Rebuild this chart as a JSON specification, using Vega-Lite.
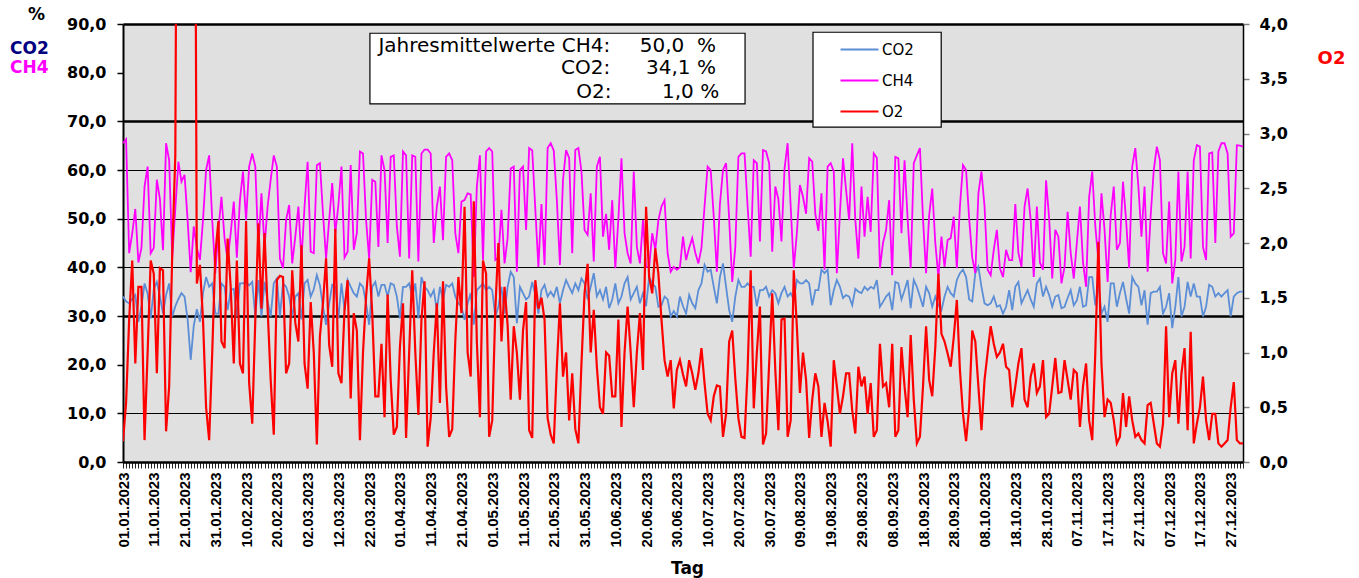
{
"$schema": "https://vega.github.io/schema/vega-lite/v6.json",
"width": 1120,
"height": 438,
"autosize": {"type": "none"},
"padding": {"left": 123, "top": 24, "right": 116, "bottom": 116},
"background": "white",
"config": {
  "view": {"fill": "#E0E0E0", "stroke": null},
  "font": "DejaVu Sans"
},
"title": {
  "text": "CO2", "subtitle": "CH4", "anchor": "start", "frame": "group", "orient": "top",
  "dx": -113, "dy": 72, "offset": 0,
  "font": "DejaVu Sans", "fontSize": 17, "fontWeight": "bold", "color": "#000080",
  "subtitleFont": "DejaVu Sans", "subtitleFontSize": 17, "subtitleFontWeight": "bold", "subtitleColor": "#FF00FF",
  "subtitlePadding": 2
},
"datasets": {
"gas": [
{"d":"2023-01-01","CO2":34,"CH4":65.5,"O2":0.19},
{"d":"2023-01-02","CO2":33,"CH4":66.3,"O2":0.54},
{"d":"2023-01-03","CO2":32.6,"CH4":42.9,"O2":1.3},
{"d":"2023-01-04","CO2":33.5,"CH4":47,"O2":1.84},
{"d":"2023-01-05","CO2":34.3,"CH4":52,"O2":0.9},
{"d":"2023-01-06","CO2":28.8,"CH4":41,"O2":1.6},
{"d":"2023-01-07","CO2":32,"CH4":44,"O2":1.6},
{"d":"2023-01-08","CO2":36.7,"CH4":56.6,"O2":0.2},
{"d":"2023-01-09","CO2":34.6,"CH4":60.7,"O2":1.0},
{"d":"2023-01-10","CO2":29.5,"CH4":42.9,"O2":1.84},
{"d":"2023-01-11","CO2":35.5,"CH4":44,"O2":1.72},
{"d":"2023-01-12","CO2":37,"CH4":58,"O2":0.81},
{"d":"2023-01-13","CO2":34,"CH4":54,"O2":1.77},
{"d":"2023-01-14","CO2":30.5,"CH4":43.5,"O2":1.75},
{"d":"2023-01-15","CO2":34.3,"CH4":65.5,"O2":0.28},
{"d":"2023-01-16","CO2":36.7,"CH4":62,"O2":0.69},
{"d":"2023-01-17","CO2":29.9,"CH4":42,"O2":1.9},
{"d":"2023-01-18","CO2":32,"CH4":52,"O2":2.8},
{"d":"2023-01-19","CO2":33.5,"CH4":61.7,"O2":9},
{"d":"2023-01-20","CO2":34.7,"CH4":57.6,"O2":9},
{"d":"2023-01-21","CO2":34,"CH4":59,"O2":9},
{"d":"2023-01-22","CO2":29.3,"CH4":49.7,"O2":9},
{"d":"2023-01-23","CO2":21,"CH4":39,"O2":9},
{"d":"2023-01-24","CO2":28,"CH4":48.4,"O2":9},
{"d":"2023-01-25","CO2":31.4,"CH4":44,"O2":1.63},
{"d":"2023-01-26","CO2":28.8,"CH4":41.5,"O2":1.8},
{"d":"2023-01-27","CO2":34.7,"CH4":49.7,"O2":1.3},
{"d":"2023-01-28","CO2":38,"CH4":60,"O2":0.5},
{"d":"2023-01-29","CO2":36,"CH4":63,"O2":0.2},
{"d":"2023-01-30","CO2":36.7,"CH4":49.7,"O2":1.0},
{"d":"2023-01-31","CO2":30.5,"CH4":38.8,"O2":1.9},
{"d":"2023-02-01","CO2":30.5,"CH4":47.7,"O2":2.2},
{"d":"2023-02-02","CO2":36.7,"CH4":54.5,"O2":1.1},
{"d":"2023-02-03","CO2":36,"CH4":46,"O2":1.04},
{"d":"2023-02-04","CO2":31.2,"CH4":41.5,"O2":2.04},
{"d":"2023-02-05","CO2":35.3,"CH4":47,"O2":1.6},
{"d":"2023-02-06","CO2":35.6,"CH4":53.5,"O2":0.9},
{"d":"2023-02-07","CO2":29.9,"CH4":42,"O2":1.84},
{"d":"2023-02-08","CO2":36.7,"CH4":53.8,"O2":0.9},
{"d":"2023-02-09","CO2":36.7,"CH4":59.7,"O2":0.81},
{"d":"2023-02-10","CO2":37,"CH4":49.7,"O2":2.2},
{"d":"2023-02-11","CO2":36.3,"CH4":60.7,"O2":0.72},
{"d":"2023-02-12","CO2":37,"CH4":63.4,"O2":0.35},
{"d":"2023-02-13","CO2":29.9,"CH4":60.7,"O2":1.3},
{"d":"2023-02-14","CO2":37.4,"CH4":43.6,"O2":2.18},
{"d":"2023-02-15","CO2":29.9,"CH4":55.2,"O2":1.4},
{"d":"2023-02-16","CO2":37,"CH4":44.2,"O2":2.09},
{"d":"2023-02-17","CO2":33,"CH4":52.5,"O2":1.4},
{"d":"2023-02-18","CO2":29.9,"CH4":58,"O2":0.75},
{"d":"2023-02-19","CO2":36.7,"CH4":63,"O2":0.25},
{"d":"2023-02-20","CO2":37.7,"CH4":60.7,"O2":1.66},
{"d":"2023-02-21","CO2":29.9,"CH4":41.8,"O2":1.7},
{"d":"2023-02-22","CO2":36.7,"CH4":39.8,"O2":1.69},
{"d":"2023-02-23","CO2":36,"CH4":49.7,"O2":0.81},
{"d":"2023-02-24","CO2":34,"CH4":52.8,"O2":0.9},
{"d":"2023-02-25","CO2":29.9,"CH4":40.8,"O2":1.75},
{"d":"2023-02-26","CO2":34,"CH4":46.3,"O2":1.27},
{"d":"2023-02-27","CO2":34.7,"CH4":52.5,"O2":1.1},
{"d":"2023-02-28","CO2":29.3,"CH4":41.5,"O2":1.98},
{"d":"2023-03-01","CO2":36.7,"CH4":52.5,"O2":0.9},
{"d":"2023-03-02","CO2":37.4,"CH4":61.7,"O2":0.67},
{"d":"2023-03-03","CO2":34,"CH4":43.2,"O2":1.46},
{"d":"2023-03-04","CO2":35.5,"CH4":42.9,"O2":1.0},
{"d":"2023-03-05","CO2":38.4,"CH4":61,"O2":0.16},
{"d":"2023-03-06","CO2":36.3,"CH4":61.4,"O2":1.15},
{"d":"2023-03-07","CO2":31.9,"CH4":51,"O2":1.45},
{"d":"2023-03-08","CO2":28.2,"CH4":41.8,"O2":1.86},
{"d":"2023-03-09","CO2":32.5,"CH4":49.7,"O2":1.07},
{"d":"2023-03-10","CO2":36.4,"CH4":57.3,"O2":0.87},
{"d":"2023-03-11","CO2":36,"CH4":47,"O2":2.13},
{"d":"2023-03-12","CO2":29.5,"CH4":52.8,"O2":0.81},
{"d":"2023-03-13","CO2":36.7,"CH4":60.7,"O2":0.72},
{"d":"2023-03-14","CO2":31.2,"CH4":42,"O2":1.39},
{"d":"2023-03-15","CO2":37.4,"CH4":43.2,"O2":1.66},
{"d":"2023-03-16","CO2":36,"CH4":61,"O2":0.58},
{"d":"2023-03-17","CO2":34.7,"CH4":43.6,"O2":1.36},
{"d":"2023-03-18","CO2":34,"CH4":47,"O2":1.2},
{"d":"2023-03-19","CO2":36.7,"CH4":63.8,"O2":0.2},
{"d":"2023-03-20","CO2":36,"CH4":63.4,"O2":1.0},
{"d":"2023-03-21","CO2":32.6,"CH4":49.7,"O2":1.51},
{"d":"2023-03-22","CO2":28.2,"CH4":41.8,"O2":1.86},
{"d":"2023-03-23","CO2":36,"CH4":58,"O2":1.36},
{"d":"2023-03-24","CO2":37,"CH4":57.6,"O2":0.6},
{"d":"2023-03-25","CO2":34,"CH4":44.2,"O2":0.6},
{"d":"2023-03-26","CO2":36.4,"CH4":63,"O2":1.08},
{"d":"2023-03-27","CO2":36.4,"CH4":60,"O2":0.41},
{"d":"2023-03-28","CO2":34,"CH4":45,"O2":1.53},
{"d":"2023-03-29","CO2":36.7,"CH4":62.7,"O2":0.75},
{"d":"2023-03-30","CO2":36.4,"CH4":63,"O2":0.25},
{"d":"2023-03-31","CO2":34,"CH4":48.4,"O2":0.32},
{"d":"2023-04-01","CO2":29.5,"CH4":42.2,"O2":1.05},
{"d":"2023-04-02","CO2":36,"CH4":63.8,"O2":1.45},
{"d":"2023-04-03","CO2":36,"CH4":63,"O2":0.22},
{"d":"2023-04-04","CO2":36.7,"CH4":41.8,"O2":1.0},
{"d":"2023-04-05","CO2":34,"CH4":63,"O2":1.75},
{"d":"2023-04-06","CO2":36.7,"CH4":62.7,"O2":1.0},
{"d":"2023-04-07","CO2":29.5,"CH4":41.2,"O2":0.43},
{"d":"2023-04-08","CO2":38,"CH4":63.4,"O2":1.3},
{"d":"2023-04-09","CO2":36,"CH4":64.2,"O2":1.65},
{"d":"2023-04-10","CO2":35.3,"CH4":64.2,"O2":0.14},
{"d":"2023-04-11","CO2":34,"CH4":63.4,"O2":0.4},
{"d":"2023-04-12","CO2":35.3,"CH4":45,"O2":1.0},
{"d":"2023-04-13","CO2":31.2,"CH4":52.5,"O2":1.45},
{"d":"2023-04-14","CO2":36,"CH4":56.6,"O2":0.54},
{"d":"2023-04-15","CO2":33.3,"CH4":45.6,"O2":1.65},
{"d":"2023-04-16","CO2":36.4,"CH4":62.7,"O2":0.69},
{"d":"2023-04-17","CO2":36,"CH4":63.4,"O2":0.23},
{"d":"2023-04-18","CO2":36.7,"CH4":62,"O2":0.3},
{"d":"2023-04-19","CO2":34,"CH4":47,"O2":1.11},
{"d":"2023-04-20","CO2":32.6,"CH4":42.9,"O2":1.69},
{"d":"2023-04-21","CO2":31.9,"CH4":53.5,"O2":1.36},
{"d":"2023-04-22","CO2":29.2,"CH4":53.8,"O2":2.33},
{"d":"2023-04-23","CO2":32.6,"CH4":55.2,"O2":1.0},
{"d":"2023-04-24","CO2":34.7,"CH4":55,"O2":0.78},
{"d":"2023-04-25","CO2":28.2,"CH4":38,"O2":2.38},
{"d":"2023-04-26","CO2":35.3,"CH4":56.6,"O2":1.1},
{"d":"2023-04-27","CO2":36,"CH4":63,"O2":0.41},
{"d":"2023-04-28","CO2":36.7,"CH4":41.5,"O2":1.84},
{"d":"2023-04-29","CO2":35.3,"CH4":63.8,"O2":1.72},
{"d":"2023-04-30","CO2":36,"CH4":64.5,"O2":0.23},
{"d":"2023-05-01","CO2":35.3,"CH4":63.8,"O2":0.38},
{"d":"2023-05-02","CO2":29.9,"CH4":41.5,"O2":1.39},
{"d":"2023-05-03","CO2":31.9,"CH4":42,"O2":2.0},
{"d":"2023-05-04","CO2":36,"CH4":51.8,"O2":1.1},
{"d":"2023-05-05","CO2":30.5,"CH4":40.8,"O2":1.6},
{"d":"2023-05-06","CO2":36,"CH4":46,"O2":1.25},
{"d":"2023-05-07","CO2":39.1,"CH4":60.3,"O2":0.57},
{"d":"2023-05-08","CO2":38,"CH4":60.7,"O2":1.24},
{"d":"2023-05-09","CO2":28.5,"CH4":39.1,"O2":1.0},
{"d":"2023-05-10","CO2":36,"CH4":60,"O2":0.57},
{"d":"2023-05-11","CO2":34.7,"CH4":60.7,"O2":1.2},
{"d":"2023-05-12","CO2":33.4,"CH4":47.7,"O2":1.46},
{"d":"2023-05-13","CO2":34,"CH4":64.5,"O2":0.29},
{"d":"2023-05-14","CO2":37,"CH4":64,"O2":0.22},
{"d":"2023-05-15","CO2":34.3,"CH4":52,"O2":1.66},
{"d":"2023-05-16","CO2":30.5,"CH4":40.1,"O2":1.4},
{"d":"2023-05-17","CO2":35.3,"CH4":53,"O2":1.5},
{"d":"2023-05-18","CO2":36.4,"CH4":40.5,"O2":1.3},
{"d":"2023-05-19","CO2":34,"CH4":64.5,"O2":0.4},
{"d":"2023-05-20","CO2":35,"CH4":65.5,"O2":0.25},
{"d":"2023-05-21","CO2":34,"CH4":64,"O2":0.17},
{"d":"2023-05-22","CO2":36,"CH4":53.8,"O2":0.87},
{"d":"2023-05-23","CO2":32.6,"CH4":40.5,"O2":1.45},
{"d":"2023-05-24","CO2":35.3,"CH4":58,"O2":0.78},
{"d":"2023-05-25","CO2":37.4,"CH4":64.1,"O2":1.0},
{"d":"2023-05-26","CO2":36,"CH4":62.5,"O2":0.38},
{"d":"2023-05-27","CO2":34.7,"CH4":42.9,"O2":0.81},
{"d":"2023-05-28","CO2":36.7,"CH4":64.1,"O2":0.3},
{"d":"2023-05-29","CO2":35.3,"CH4":64.5,"O2":0.17},
{"d":"2023-05-30","CO2":37.7,"CH4":59.7,"O2":0.9},
{"d":"2023-05-31","CO2":36.7,"CH4":47.7,"O2":1.54},
{"d":"2023-06-01","CO2":33.4,"CH4":46.7,"O2":1.81},
{"d":"2023-06-02","CO2":36,"CH4":55.2,"O2":1.0},
{"d":"2023-06-03","CO2":38.8,"CH4":41.2,"O2":1.39},
{"d":"2023-06-04","CO2":34,"CH4":60.7,"O2":0.87},
{"d":"2023-06-05","CO2":35.3,"CH4":62.7,"O2":0.5},
{"d":"2023-06-06","CO2":33.4,"CH4":46.3,"O2":0.44},
{"d":"2023-06-07","CO2":36,"CH4":51,"O2":1.0},
{"d":"2023-06-08","CO2":31.6,"CH4":43.6,"O2":0.97},
{"d":"2023-06-09","CO2":33.4,"CH4":53.8,"O2":0.6},
{"d":"2023-06-10","CO2":36.7,"CH4":39.8,"O2":0.6},
{"d":"2023-06-11","CO2":32.6,"CH4":50,"O2":1.3},
{"d":"2023-06-12","CO2":34,"CH4":62.4,"O2":0.32},
{"d":"2023-06-13","CO2":36.7,"CH4":47,"O2":1.0},
{"d":"2023-06-14","CO2":38,"CH4":42.9,"O2":1.42},
{"d":"2023-06-15","CO2":33.4,"CH4":40.8,"O2":1.0},
{"d":"2023-06-16","CO2":34.7,"CH4":59.7,"O2":0.5},
{"d":"2023-06-17","CO2":36,"CH4":44.2,"O2":1.0},
{"d":"2023-06-18","CO2":32.6,"CH4":40.8,"O2":1.36},
{"d":"2023-06-19","CO2":34.7,"CH4":49.7,"O2":0.84},
{"d":"2023-06-20","CO2":32,"CH4":40.1,"O2":2.33},
{"d":"2023-06-21","CO2":38,"CH4":40.1,"O2":1.69},
{"d":"2023-06-22","CO2":36.7,"CH4":47,"O2":1.54},
{"d":"2023-06-23","CO2":36,"CH4":43.6,"O2":1.95},
{"d":"2023-06-24","CO2":31.9,"CH4":49.7,"O2":1.72},
{"d":"2023-06-25","CO2":32.2,"CH4":52.5,"O2":1.3},
{"d":"2023-06-26","CO2":34,"CH4":53.8,"O2":0.93},
{"d":"2023-06-27","CO2":33.4,"CH4":42.9,"O2":0.78},
{"d":"2023-06-28","CO2":29.9,"CH4":39.1,"O2":0.93},
{"d":"2023-06-29","CO2":31,"CH4":40.1,"O2":0.49},
{"d":"2023-06-30","CO2":29.9,"CH4":39.5,"O2":0.84},
{"d":"2023-07-01","CO2":34,"CH4":40,"O2":0.93},
{"d":"2023-07-02","CO2":32,"CH4":46.3,"O2":0.8},
{"d":"2023-07-03","CO2":30.5,"CH4":41.5,"O2":0.69},
{"d":"2023-07-04","CO2":34.3,"CH4":44,"O2":0.93},
{"d":"2023-07-05","CO2":32.6,"CH4":46,"O2":0.81},
{"d":"2023-07-06","CO2":31.6,"CH4":43,"O2":0.66},
{"d":"2023-07-07","CO2":35.3,"CH4":40.8,"O2":0.81},
{"d":"2023-07-08","CO2":36.7,"CH4":44,"O2":1.04},
{"d":"2023-07-09","CO2":40.5,"CH4":52.5,"O2":0.72},
{"d":"2023-07-10","CO2":39.1,"CH4":60.7,"O2":0.44},
{"d":"2023-07-11","CO2":39.5,"CH4":60,"O2":0.38},
{"d":"2023-07-12","CO2":36,"CH4":50.4,"O2":0.6},
{"d":"2023-07-13","CO2":32.6,"CH4":39.1,"O2":0.7},
{"d":"2023-07-14","CO2":38,"CH4":53,"O2":0.69},
{"d":"2023-07-15","CO2":40.8,"CH4":60,"O2":0.23},
{"d":"2023-07-16","CO2":36,"CH4":61.4,"O2":0.44},
{"d":"2023-07-17","CO2":31.2,"CH4":50,"O2":1.1},
{"d":"2023-07-18","CO2":28.8,"CH4":37,"O2":1.2},
{"d":"2023-07-19","CO2":34,"CH4":44.2,"O2":0.76},
{"d":"2023-07-20","CO2":37.4,"CH4":62.7,"O2":0.4},
{"d":"2023-07-21","CO2":36,"CH4":63.4,"O2":0.23},
{"d":"2023-07-22","CO2":36,"CH4":63.4,"O2":0.22},
{"d":"2023-07-23","CO2":36.7,"CH4":52.5,"O2":0.84},
{"d":"2023-07-24","CO2":36,"CH4":42.2,"O2":1.75},
{"d":"2023-07-25","CO2":36,"CH4":62,"O2":0.49},
{"d":"2023-07-26","CO2":32,"CH4":61.4,"O2":1.0},
{"d":"2023-07-27","CO2":35.3,"CH4":45.3,"O2":1.42},
{"d":"2023-07-28","CO2":35.3,"CH4":64.1,"O2":0.16},
{"d":"2023-07-29","CO2":36,"CH4":63.8,"O2":0.26},
{"d":"2023-07-30","CO2":34,"CH4":61.4,"O2":0.9},
{"d":"2023-07-31","CO2":35.3,"CH4":43.2,"O2":1.54},
{"d":"2023-08-01","CO2":34.7,"CH4":56.6,"O2":0.84},
{"d":"2023-08-02","CO2":32.6,"CH4":54,"O2":0.29},
{"d":"2023-08-03","CO2":34.7,"CH4":45.3,"O2":1.3},
{"d":"2023-08-04","CO2":36,"CH4":60.3,"O2":1.31},
{"d":"2023-08-05","CO2":34,"CH4":65.5,"O2":0.23},
{"d":"2023-08-06","CO2":34.7,"CH4":52.5,"O2":0.38},
{"d":"2023-08-07","CO2":33.4,"CH4":39.8,"O2":1.75},
{"d":"2023-08-08","CO2":37.4,"CH4":47,"O2":1.24},
{"d":"2023-08-09","CO2":36.7,"CH4":56.9,"O2":0.63},
{"d":"2023-08-10","CO2":36.7,"CH4":54.5,"O2":1.0},
{"d":"2023-08-11","CO2":37.4,"CH4":51,"O2":0.75},
{"d":"2023-08-12","CO2":36.7,"CH4":62.4,"O2":0.22},
{"d":"2023-08-13","CO2":32.2,"CH4":61.7,"O2":0.57},
{"d":"2023-08-14","CO2":35.3,"CH4":51,"O2":0.81},
{"d":"2023-08-15","CO2":35.3,"CH4":47.5,"O2":0.69},
{"d":"2023-08-16","CO2":39.5,"CH4":55.2,"O2":0.23},
{"d":"2023-08-17","CO2":38.8,"CH4":39.5,"O2":0.54},
{"d":"2023-08-18","CO2":39.5,"CH4":60.7,"O2":0.37},
{"d":"2023-08-19","CO2":32.2,"CH4":61.4,"O2":0.14},
{"d":"2023-08-20","CO2":35.3,"CH4":59.7,"O2":0.93},
{"d":"2023-08-21","CO2":37.4,"CH4":38.8,"O2":0.69},
{"d":"2023-08-22","CO2":36,"CH4":51,"O2":0.44},
{"d":"2023-08-23","CO2":33.7,"CH4":62.4,"O2":0.6},
{"d":"2023-08-24","CO2":34.3,"CH4":55.9,"O2":0.81},
{"d":"2023-08-25","CO2":34,"CH4":49.7,"O2":0.81},
{"d":"2023-08-26","CO2":32.2,"CH4":65.5,"O2":0.47},
{"d":"2023-08-27","CO2":35.6,"CH4":49.7,"O2":0.26},
{"d":"2023-08-28","CO2":35,"CH4":41.8,"O2":0.87},
{"d":"2023-08-29","CO2":34.7,"CH4":56.6,"O2":0.69},
{"d":"2023-08-30","CO2":36,"CH4":46.3,"O2":0.78},
{"d":"2023-08-31","CO2":35.3,"CH4":54.5,"O2":0.44},
{"d":"2023-09-01","CO2":36,"CH4":47.3,"O2":0.72},
{"d":"2023-09-02","CO2":35.6,"CH4":63.4,"O2":0.23},
{"d":"2023-09-03","CO2":37.4,"CH4":62.5,"O2":0.29},
{"d":"2023-09-04","CO2":31.9,"CH4":39.8,"O2":1.08},
{"d":"2023-09-05","CO2":32.9,"CH4":45,"O2":0.69},
{"d":"2023-09-06","CO2":34,"CH4":47.7,"O2":0.72},
{"d":"2023-09-07","CO2":34.7,"CH4":53.8,"O2":0.5},
{"d":"2023-09-08","CO2":31.2,"CH4":38.4,"O2":1.08},
{"d":"2023-09-09","CO2":37,"CH4":62.7,"O2":0.23},
{"d":"2023-09-10","CO2":36.7,"CH4":62.4,"O2":0.29},
{"d":"2023-09-11","CO2":33.4,"CH4":47,"O2":1.05},
{"d":"2023-09-12","CO2":35.3,"CH4":62,"O2":0.69},
{"d":"2023-09-13","CO2":37.4,"CH4":50,"O2":0.41},
{"d":"2023-09-14","CO2":31.6,"CH4":39.8,"O2":1.16},
{"d":"2023-09-15","CO2":37.4,"CH4":61.4,"O2":0.57},
{"d":"2023-09-16","CO2":36,"CH4":63,"O2":0.17},
{"d":"2023-09-17","CO2":34,"CH4":64.5,"O2":0.23},
{"d":"2023-09-18","CO2":31.9,"CH4":50,"O2":0.69},
{"d":"2023-09-19","CO2":36,"CH4":38.8,"O2":1.24},
{"d":"2023-09-20","CO2":34.7,"CH4":50.7,"O2":0.75},
{"d":"2023-09-21","CO2":31.9,"CH4":56.2,"O2":0.6},
{"d":"2023-09-22","CO2":34,"CH4":45,"O2":1.05},
{"d":"2023-09-23","CO2":32.2,"CH4":38,"O2":1.72},
{"d":"2023-09-24","CO2":31.2,"CH4":46.3,"O2":1.17},
{"d":"2023-09-25","CO2":34,"CH4":40.1,"O2":1.1},
{"d":"2023-09-26","CO2":36,"CH4":45.6,"O2":0.99},
{"d":"2023-09-27","CO2":34.7,"CH4":46,"O2":0.87},
{"d":"2023-09-28","CO2":34,"CH4":50.4,"O2":1.14},
{"d":"2023-09-29","CO2":37.4,"CH4":39.8,"O2":1.48},
{"d":"2023-09-30","CO2":38.8,"CH4":52.5,"O2":0.84},
{"d":"2023-10-01","CO2":39.5,"CH4":61,"O2":0.44},
{"d":"2023-10-02","CO2":38,"CH4":60,"O2":0.19},
{"d":"2023-10-03","CO2":33.4,"CH4":50,"O2":0.5},
{"d":"2023-10-04","CO2":33,"CH4":42,"O2":1.2},
{"d":"2023-10-05","CO2":38.8,"CH4":38.8,"O2":1.1},
{"d":"2023-10-06","CO2":40.1,"CH4":55.2,"O2":0.69},
{"d":"2023-10-07","CO2":36,"CH4":59.7,"O2":0.29},
{"d":"2023-10-08","CO2":32.6,"CH4":52.5,"O2":0.75},
{"d":"2023-10-09","CO2":32.2,"CH4":39.5,"O2":1.0},
{"d":"2023-10-10","CO2":32.6,"CH4":38.4,"O2":1.24},
{"d":"2023-10-11","CO2":34,"CH4":43.6,"O2":1.08},
{"d":"2023-10-12","CO2":31.9,"CH4":47.7,"O2":0.96},
{"d":"2023-10-13","CO2":32.2,"CH4":39.8,"O2":1.0},
{"d":"2023-10-14","CO2":30.5,"CH4":38,"O2":1.08},
{"d":"2023-10-15","CO2":31.9,"CH4":43.6,"O2":0.87},
{"d":"2023-10-16","CO2":35.3,"CH4":41.5,"O2":0.84},
{"d":"2023-10-17","CO2":31.2,"CH4":41.5,"O2":0.5},
{"d":"2023-10-18","CO2":36,"CH4":53,"O2":0.69},
{"d":"2023-10-19","CO2":37,"CH4":43,"O2":0.9},
{"d":"2023-10-20","CO2":32.6,"CH4":40.1,"O2":1.04},
{"d":"2023-10-21","CO2":34,"CH4":52.5,"O2":0.57},
{"d":"2023-10-22","CO2":35.3,"CH4":56.2,"O2":0.5},
{"d":"2023-10-23","CO2":33.4,"CH4":49.7,"O2":0.78},
{"d":"2023-10-24","CO2":31.9,"CH4":38,"O2":0.9},
{"d":"2023-10-25","CO2":36.7,"CH4":52.5,"O2":0.63},
{"d":"2023-10-26","CO2":37.7,"CH4":41,"O2":0.69},
{"d":"2023-10-27","CO2":34,"CH4":39.5,"O2":0.93},
{"d":"2023-10-28","CO2":36,"CH4":57.9,"O2":0.41},
{"d":"2023-10-29","CO2":34.3,"CH4":50,"O2":0.44},
{"d":"2023-10-30","CO2":31.9,"CH4":37.7,"O2":0.69},
{"d":"2023-10-31","CO2":34,"CH4":47.7,"O2":0.95},
{"d":"2023-11-01","CO2":34.3,"CH4":46.3,"O2":0.63},
{"d":"2023-11-02","CO2":31.6,"CH4":36.7,"O2":0.64},
{"d":"2023-11-03","CO2":31.9,"CH4":40.1,"O2":0.93},
{"d":"2023-11-04","CO2":33.7,"CH4":51.4,"O2":0.75},
{"d":"2023-11-05","CO2":35.3,"CH4":43,"O2":0.57},
{"d":"2023-11-06","CO2":32.2,"CH4":37.7,"O2":0.84},
{"d":"2023-11-07","CO2":33.2,"CH4":45,"O2":0.81},
{"d":"2023-11-08","CO2":36,"CH4":52.5,"O2":0.32},
{"d":"2023-11-09","CO2":31.9,"CH4":41,"O2":0.69},
{"d":"2023-11-10","CO2":32.2,"CH4":36,"O2":0.9},
{"d":"2023-11-11","CO2":38,"CH4":54.5,"O2":0.38},
{"d":"2023-11-12","CO2":38,"CH4":59.7,"O2":0.2},
{"d":"2023-11-13","CO2":32.2,"CH4":48.4,"O2":1.0},
{"d":"2023-11-14","CO2":36.7,"CH4":41.5,"O2":2.01},
{"d":"2023-11-15","CO2":30.5,"CH4":55.2,"O2":0.9},
{"d":"2023-11-16","CO2":31.9,"CH4":47.7,"O2":0.41},
{"d":"2023-11-17","CO2":28.8,"CH4":37,"O2":0.57},
{"d":"2023-11-18","CO2":36.7,"CH4":50.7,"O2":0.54},
{"d":"2023-11-19","CO2":36.7,"CH4":56.6,"O2":0.38},
{"d":"2023-11-20","CO2":31.9,"CH4":43.6,"O2":0.17},
{"d":"2023-11-21","CO2":34.7,"CH4":45,"O2":0.23},
{"d":"2023-11-22","CO2":37,"CH4":57.6,"O2":0.63},
{"d":"2023-11-23","CO2":33.6,"CH4":49.7,"O2":0.32},
{"d":"2023-11-24","CO2":30.5,"CH4":39.8,"O2":0.6},
{"d":"2023-11-25","CO2":38,"CH4":60.7,"O2":0.38},
{"d":"2023-11-26","CO2":36.7,"CH4":64.5,"O2":0.23},
{"d":"2023-11-27","CO2":36,"CH4":56.6,"O2":0.26},
{"d":"2023-11-28","CO2":32.2,"CH4":46.3,"O2":0.2},
{"d":"2023-11-29","CO2":35.3,"CH4":56.6,"O2":0.17},
{"d":"2023-11-30","CO2":28.2,"CH4":39.1,"O2":0.52},
{"d":"2023-12-01","CO2":34.7,"CH4":50.7,"O2":0.54},
{"d":"2023-12-02","CO2":35,"CH4":60,"O2":0.35},
{"d":"2023-12-03","CO2":35,"CH4":64.8,"O2":0.17},
{"d":"2023-12-04","CO2":36,"CH4":62,"O2":0.14},
{"d":"2023-12-05","CO2":30.5,"CH4":42.9,"O2":0.35},
{"d":"2023-12-06","CO2":31.9,"CH4":40.8,"O2":1.24},
{"d":"2023-12-07","CO2":34.7,"CH4":53.5,"O2":0.41},
{"d":"2023-12-08","CO2":27.5,"CH4":36.7,"O2":0.81},
{"d":"2023-12-09","CO2":31.9,"CH4":41.5,"O2":0.93},
{"d":"2023-12-10","CO2":38,"CH4":59.7,"O2":0.35},
{"d":"2023-12-11","CO2":29.9,"CH4":41.2,"O2":0.81},
{"d":"2023-12-12","CO2":31.9,"CH4":44.2,"O2":1.04},
{"d":"2023-12-13","CO2":37,"CH4":59.7,"O2":0.29},
{"d":"2023-12-14","CO2":34,"CH4":41.8,"O2":1.19},
{"d":"2023-12-15","CO2":36.7,"CH4":62,"O2":0.17},
{"d":"2023-12-16","CO2":34,"CH4":65.1,"O2":0.35},
{"d":"2023-12-17","CO2":34,"CH4":64.8,"O2":0.5},
{"d":"2023-12-18","CO2":29.9,"CH4":44.2,"O2":0.78},
{"d":"2023-12-19","CO2":31.9,"CH4":41.5,"O2":0.38},
{"d":"2023-12-20","CO2":36.4,"CH4":63.4,"O2":0.2},
{"d":"2023-12-21","CO2":36,"CH4":63.6,"O2":0.44},
{"d":"2023-12-22","CO2":34,"CH4":45,"O2":0.44},
{"d":"2023-12-23","CO2":34.7,"CH4":63.8,"O2":0.17},
{"d":"2023-12-24","CO2":34,"CH4":65.5,"O2":0.14},
{"d":"2023-12-25","CO2":34.7,"CH4":65.5,"O2":0.17},
{"d":"2023-12-26","CO2":35.3,"CH4":63.4,"O2":0.2},
{"d":"2023-12-27","CO2":29.9,"CH4":46.3,"O2":0.5},
{"d":"2023-12-28","CO2":34,"CH4":47,"O2":0.73},
{"d":"2023-12-29","CO2":34.7,"CH4":65.1,"O2":0.2},
{"d":"2023-12-30","CO2":35,"CH4":65,"O2":0.17},
{"d":"2023-12-31","CO2":35,"CH4":64.8,"O2":0.17}
]
},
"layer": [
  {
    "layer": [
      {
        "data": {"name": "gas"},
        "transform": [{"fold": ["CO2", "CH4"], "as": ["Gas", "Wert"]}],
        "mark": {"type": "line", "strokeWidth": 1.8},
        "encoding": {
          "x": {
            "field": "d", "type": "temporal",
            "scale": {"type": "utc", "domain": [{"year": 2023, "month": 1, "date": 1, "utc": true}, {"year": 2023, "month": 12, "date": 31, "utc": true}]},
            "axis": {
              "title": "Tag", "titleFont": "DejaVu Sans", "titleFontSize": 17, "titleFontWeight": "bold", "titleColor": "black",
              "titleX": 564, "titleY": 106, "titleAlign": "center", "titleBaseline": "middle",
              "tickCount": {"interval": "day", "step": 1},
              "labelExpr": "(round((datum.value - utc(2023,0,1))/86400000) % 10 == 0) ? utcFormat(datum.value, '%d.%m.%Y') : ''",
              "labelAngle": -90, "labelFont": "Liberation Sans", "labelFontSize": 15, "labelFontWeight": "bold", "labelColor": "black",
              "labelOverlap": false, "labelFlush": false, "labelBound": false, "labelPadding": 4,
              "tickSize": 6, "tickColor": "#222222", "tickWidth": 1,
              "domainColor": "black", "domainWidth": 2.5, "grid": false
            }
          },
          "y": {
            "field": "Wert", "type": "quantitative",
            "scale": {"domain": [0, 90], "nice": false},
            "axis": {
              "orient": "left", "values": [0, 10, 20, 30, 40, 50, 60, 70, 80, 90],
              "title": "%", "titleAngle": 0, "titleX": -87, "titleY": -10, "titleAlign": "center", "titleBaseline": "middle",
              "titleFont": "DejaVu Sans", "titleFontSize": 17, "titleFontWeight": "bold", "titleColor": "black",
              "labelExpr": "replace(format(datum.value, '.1f'), '.', ',')",
              "labelFont": "DejaVu Sans", "labelFontSize": 16, "labelFontWeight": "bold", "labelColor": "black", "labelPadding": 11,
              "tickSize": 6, "tickColor": "black", "tickWidth": 1.5,
              "domainColor": "black", "domainWidth": 2,
              "grid": true, "gridColor": "black",
              "gridWidth": {"condition": {"test": "datum.value == 30 || datum.value == 70 || datum.value == 90", "value": 2.5}, "value": 1},
              "gridOpacity": {"condition": {"test": "datum.value == 0 || datum.value == 20 || datum.value == 80", "value": 0}, "value": 1}
            }
          },
          "color": {
            "field": "Gas", "type": "nominal",
            "scale": {"domain": ["CO2", "CH4", "O2"], "range": ["#5B8ED6", "#FF00FF", "#FF0000"]},
            "legend": {
              "orient": "none", "legendX": 716, "legendY": 5, "title": null, "direction": "vertical",
              "padding": 0,
              "symbolType": "stroke", "symbolSize": 1444, "symbolStrokeWidth": 2.2,
              "labelOffset": 2, "labelFont": "DejaVu Sans", "labelFontSize": 15, "labelColor": "black",
              "rowPadding": 2
            }
          }
        }
      },
      {
        "data": {"values": [{}]},
        "mark": {"type": "rect", "fill": "white", "stroke": "black", "strokeWidth": 1.2},
        "encoding": {
          "x": {"datum": {"year": 2023, "month": 3, "date": 22, "hours": 6, "utc": true}, "type": "temporal"},
          "x2": {"datum": {"year": 2023, "month": 7, "date": 22, "hours": 4, "utc": true}},
          "y": {"datum": 88.1, "type": "quantitative"},
          "y2": {"datum": 73.6}
        }
      },
      {
        "data": {"values": [{}]},
        "mark": {"type": "rect", "fill": "white", "stroke": "black", "strokeWidth": 1.2},
        "encoding": {
          "x": {"datum": {"year": 2023, "month": 8, "date": 13, "hours": 6, "utc": true}, "type": "temporal"},
          "x2": {"datum": {"year": 2023, "month": 9, "date": 23, "hours": 22, "utc": true}},
          "y": {"datum": 88.3, "type": "quantitative"},
          "y2": {"datum": 68.8}
        }
      },
      {
        "data": {"values": [{}]},
        "mark": {"type": "text", "align": "right", "baseline": "middle", "font": "DejaVu Sans", "fontSize": 20, "color": "black"},
        "encoding": {
          "x": {"datum": {"year": 2023, "month": 6, "date": 8, "hours": 8, "utc": true}, "type": "temporal"},
          "y": {"datum": 85.5, "type": "quantitative"},
          "text": {"value": "Jahresmittelwerte CH4:"}
        }
      },
      {
        "data": {"values": [{}]},
        "mark": {"type": "text", "align": "right", "baseline": "middle", "font": "DejaVu Sans", "fontSize": 20, "color": "black"},
        "encoding": {
          "x": {"datum": {"year": 2023, "month": 6, "date": 8, "hours": 8, "utc": true}, "type": "temporal"},
          "y": {"datum": 80.9, "type": "quantitative"},
          "text": {"value": "CO2:"}
        }
      },
      {
        "data": {"values": [{}]},
        "mark": {"type": "text", "align": "right", "baseline": "middle", "font": "DejaVu Sans", "fontSize": 20, "color": "black"},
        "encoding": {
          "x": {"datum": {"year": 2023, "month": 6, "date": 8, "hours": 18, "utc": true}, "type": "temporal"},
          "y": {"datum": 76.0, "type": "quantitative"},
          "text": {"value": "O2:"}
        }
      },
      {
        "data": {"values": [{}]},
        "mark": {"type": "text", "align": "right", "baseline": "middle", "font": "DejaVu Sans", "fontSize": 20, "color": "black"},
        "encoding": {
          "x": {"datum": {"year": 2023, "month": 7, "date": 12, "hours": 17, "utc": true}, "type": "temporal"},
          "y": {"datum": 85.5, "type": "quantitative"},
          "text": {"value": "50,0\u00a0 %"}
        }
      },
      {
        "data": {"values": [{}]},
        "mark": {"type": "text", "align": "right", "baseline": "middle", "font": "DejaVu Sans", "fontSize": 20, "color": "black"},
        "encoding": {
          "x": {"datum": {"year": 2023, "month": 7, "date": 12, "hours": 17, "utc": true}, "type": "temporal"},
          "y": {"datum": 80.9, "type": "quantitative"},
          "text": {"value": "34,1 %"}
        }
      },
      {
        "data": {"values": [{}]},
        "mark": {"type": "text", "align": "right", "baseline": "middle", "font": "DejaVu Sans", "fontSize": 20, "color": "black"},
        "encoding": {
          "x": {"datum": {"year": 2023, "month": 7, "date": 13, "hours": 18, "utc": true}, "type": "temporal"},
          "y": {"datum": 76.0, "type": "quantitative"},
          "text": {"value": "1,0 %"}
        }
      }
    ]
  },
  {
    "data": {"name": "gas"},
    "mark": {"type": "line", "strokeWidth": 2.2, "clip": true},
    "encoding": {
      "x": {
        "field": "d", "type": "temporal",
        "scale": {"type": "utc", "domain": [{"year": 2023, "month": 1, "date": 1, "utc": true}, {"year": 2023, "month": 12, "date": 31, "utc": true}]},
        "axis": {
          "title": "Tag", "titleFont": "DejaVu Sans", "titleFontSize": 17, "titleFontWeight": "bold", "titleColor": "black",
          "titleX": 564, "titleY": 106, "titleAlign": "center", "titleBaseline": "middle",
          "tickCount": {"interval": "day", "step": 1},
          "labelExpr": "(round((datum.value - utc(2023,0,1))/86400000) % 10 == 0) ? utcFormat(datum.value, '%d.%m.%Y') : ''",
          "labelAngle": -90, "labelFont": "Liberation Sans", "labelFontSize": 15, "labelFontWeight": "bold", "labelColor": "black",
          "labelOverlap": false, "labelFlush": false, "labelBound": false, "labelPadding": 4,
          "tickSize": 6, "tickColor": "#222222", "tickWidth": 1,
          "domainColor": "black", "domainWidth": 2.5, "grid": false
        }
      },
      "y": {
        "field": "O2", "type": "quantitative",
        "scale": {"domain": [0, 4], "nice": false},
        "axis": {
          "orient": "right", "values": [0, 0.5, 1, 1.5, 2, 2.5, 3, 3.5, 4],
          "title": "O2", "titleAngle": 0, "titleX": 88, "titleY": 34, "titleAlign": "center", "titleBaseline": "middle",
          "titleFont": "DejaVu Sans", "titleFontSize": 18, "titleFontWeight": "bold", "titleColor": "#FF0000",
          "labelExpr": "replace(format(datum.value, '.1f'), '.', ',')",
          "labelFont": "DejaVu Sans", "labelFontSize": 16, "labelFontWeight": "bold", "labelColor": "black", "labelPadding": 10,
          "tickSize": 6, "tickColor": "#808080", "tickWidth": 1.5,
          "domainColor": "black", "domainWidth": 1.5, "grid": false
        }
      },
      "color": {"datum": "O2", "type": "nominal", "scale": {"domain": ["CO2", "CH4", "O2"], "range": ["#5B8ED6", "#FF00FF", "#FF0000"]}}
    }
  }
],
"resolve": {"scale": {"y": "independent"}}
}
